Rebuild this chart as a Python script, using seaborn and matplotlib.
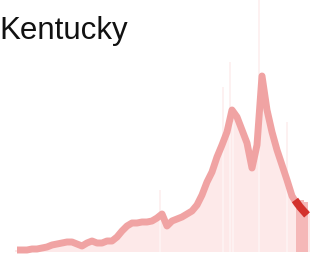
import numpy as np
import pandas as pd
import matplotlib
matplotlib.use("Agg")
import matplotlib.pyplot as plt
import seaborn as sns

# 7-day average of new cases, one value every 5 days
days = list(range(0, 295, 5))
avg_cases = [40, 40, 40, 60, 60, 80, 100, 140, 160, 180,
             200, 200, 160, 120, 180, 220, 180, 180, 220, 220,
             300, 420, 520, 580, 580, 600, 600, 620, 680, 760,
             520, 620, 660, 700, 760, 820, 940, 1140, 1400, 1600,
             1900, 2140, 2400, 2840, 2700, 2440, 2180, 1680, 2140, 3520,
             2840, 2400, 2040, 1740, 1440, 1120, 960, 880, 760]

# single-day spikes above the average
spike_days = [143, 206, 213, 216, 242, 270]
spike_cases = [1240, 3300, 3800, 2600, 5040, 2600]

# most recent days (darker bars / red line)
recent_days = [281, 285, 289]
recent_cases = [1040, 1040, 1000]
recent_line_days = [278, 283, 290]
recent_avg = [1040, 900, 740]

sns.set_style("white")
plt.rcParams["font.family"] = ["Liberation Sans", "DejaVu Sans"]

fig = plt.figure(figsize=(3.16, 2.65), dpi=100)
ax = fig.add_axes([0, 0, 1, 1])

ax.bar(days, avg_cases, width=5, color="#fde9e9", linewidth=0)
ax.bar(spike_days, spike_cases, width=1.2, color="#fdf1f1", linewidth=0)
ax.bar(recent_days, recent_cases, width=4, color="#f5b8b8", linewidth=0)

df = pd.DataFrame({"day": days, "cases": avg_cases})
sns.lineplot(data=df, x="day", y="cases", ax=ax, color="#f0a3a3",
             linewidth=5, solid_capstyle="butt")
rec = pd.DataFrame({"day": recent_line_days, "cases": recent_avg})
sns.lineplot(data=rec, x="day", y="cases", ax=ax, color="#d3312c",
             linewidth=5.5, solid_capstyle="butt")

ax.set_xlim(-17, 299)
ax.set_ylim(-260, 5040)
ax.axis("off")

fig.text(-0.003, 0.853, "Kentucky", fontsize=22.5, va="baseline", ha="left",
         color="#111111")

fig.savefig("out.png", dpi=100)
